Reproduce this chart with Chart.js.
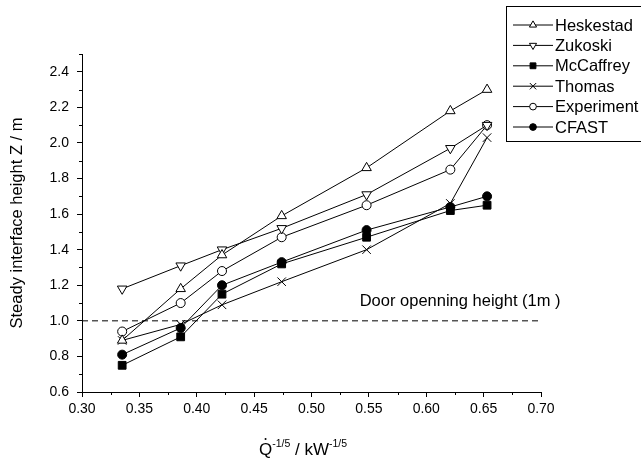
<!DOCTYPE html>
<html>
<head>
<meta charset="utf-8">
<script src="https://cdn.jsdelivr.net/npm/chart.js@4.4.1/dist/chart.umd.min.js"></script>
<style>
  html, body { margin: 0; padding: 0; background: #fff; }
  #wrap { width: 641px; height: 467px; }
</style>
</head>
<body>
<div id="wrap"><canvas id="chart" width="641" height="467"></canvas></div>
<script>
// ========================================
// DATA
// ========================================
const xValues = [0.335, 0.386, 0.422, 0.474, 0.548, 0.621, 0.653];
const heskestad = [0.89, 1.18, 1.37, 1.59, 1.86, 2.18, 2.30];
const zukoski = [1.18, 1.31, 1.40, 1.52, 1.71, 1.97, 2.10];
const mccaffrey = [0.75, 0.91, 1.15, 1.32, 1.47, 1.62, 1.65];
const thomas = [0.89, 0.98, 1.09, 1.22, 1.40, 1.66, 2.03];
const experiment = [0.94, 1.10, 1.28, 1.47, 1.65, 1.85, 2.10];
const cfast = [0.81, 0.96, 1.20, 1.33, 1.51, 1.64, 1.70];

const xTicks = [0.30, 0.35, 0.40, 0.45, 0.50, 0.55, 0.60, 0.65, 0.70];
const yTicks = [0.6, 0.8, 1.0, 1.2, 1.4, 1.6, 1.8, 2.0, 2.2, 2.4];
const xMinorTicks = [0.325, 0.375, 0.425, 0.475, 0.525, 0.575, 0.625, 0.675];
const yMinorTicks = [0.7, 0.9, 1.1, 1.3, 1.5, 1.7, 1.9, 2.1, 2.3, 2.5];

const doorLineX = [0.30, 0.70];
const doorHeight = 1.0;
const doorLabel = "Door openning height (1m )";
const doorLabelPos = { x: 0.542, y: 1.107 };

const FONT = "'Liberation Sans', Arial, sans-serif";

const toPoints = (ys) => xValues.map((x, i) => ({ x, y: ys[i] }));

function series(label, ys, style, radius, fill, rotation) {
  return {
    label,
    data: toPoints(ys),
    showLine: true,
    borderColor: "#000",
    borderWidth: 1,
    pointStyle: style,
    pointRadius: radius,
    pointRotation: rotation || 0,
    pointBackgroundColor: fill,
    pointBorderColor: "#000",
    pointBorderWidth: 1,
    pointHoverRadius: radius,
  };
}

const datasets = [
  series("Heskestad", heskestad, "triangle", 5.5, "#fff"),
  series("Zukoski", zukoski, "triangle", 5.5, "#fff", 180),
  series("McCaffrey", mccaffrey, "rect", 5.5, "#000"),
  series("Thomas", thomas, "crossRot", 6, "#000"),
  series("Experiment", experiment, "circle", 4.5, "#fff"),
  series("CFAST", cfast, "circle", 4.5, "#000"),
  {
    label: "door",
    data: doorLineX.map((x) => ({ x, y: doorHeight })),
    showLine: true,
    borderColor: "#000",
    borderWidth: 1,
    borderDash: [6, 4],
    pointRadius: 0,
    pointHoverRadius: 0,
    order: 10,
  },
];

// ========================================
// PLUGINS: minor ticks, legend, labels
// ========================================
const extras = {
  id: "extras",
  afterDraw(chart) {
    const ctx = chart.ctx;
    const xs = chart.scales.x;
    const ys = chart.scales.y;
    const area = chart.chartArea;
    ctx.save();
    ctx.strokeStyle = "#000";
    ctx.lineWidth = 1;

    // minor ticks
    ctx.beginPath();
    xMinorTicks.forEach((v) => {
      const px = Math.round(xs.getPixelForValue(v)) + 0.5;
      ctx.moveTo(px, area.bottom);
      ctx.lineTo(px, area.bottom + 3);
    });
    yMinorTicks.forEach((v) => {
      const py = Math.round(ys.getPixelForValue(v)) + 0.5;
      ctx.moveTo(area.left, py);
      ctx.lineTo(area.left - 3, py);
    });
    ctx.stroke();

    // door label
    ctx.fillStyle = "#000";
    ctx.font = "16.5px " + FONT;
    ctx.textBaseline = "middle";
    ctx.textAlign = "left";
    ctx.fillText(
      doorLabel,
      xs.getPixelForValue(doorLabelPos.x),
      ys.getPixelForValue(doorLabelPos.y),
    );

    // x axis title: Q-dot^-1/5 / kW^-1/5
    const base = 455;
    const parts = [
      ["Q", 17, 0],
      ["-1/5", 10.5, -8],
      [" / kW", 17, 0],
      ["-1/5", 10.5, -8],
    ];
    let total = 0;
    parts.forEach(([t, s]) => {
      ctx.font = s + "px " + FONT;
      total += ctx.measureText(t).width;
    });
    let cx = 303 - total / 2;
    ctx.textBaseline = "alphabetic";
    parts.forEach(([t, s, dy], i) => {
      ctx.font = s + "px " + FONT;
      ctx.fillText(t, cx, base + dy);
      const w = ctx.measureText(t).width;
      if (i === 0) {
        ctx.beginPath();
        ctx.arc(cx + w / 2, base - 16, 1, 0, Math.PI * 2);
        ctx.fill();
      }
      cx += w;
    });

    // legend
    const bx = 506.5;
    const by = 6.5;
    ctx.strokeRect(bx, by, 200, 135);
    ctx.font = "16.5px " + FONT;
    ctx.textBaseline = "middle";
    chart.data.datasets.slice(0, 6).forEach((ds, i) => {
      const y = 25 + i * 20.4;
      ctx.beginPath();
      ctx.moveTo(513, y);
      ctx.lineTo(553, y);
      ctx.strokeStyle = "#000";
      ctx.stroke();
      ctx.fillStyle = ds.pointBackgroundColor;
      Chart.helpers.drawPoint(
        ctx,
        {
          pointStyle: ds.pointStyle,
          radius: ds.pointRadius * 0.75,
          rotation: ds.pointRotation,
          borderWidth: 1,
        },
        533,
        y,
      );
      ctx.fillStyle = "#000";
      ctx.fillText(ds.label, 555, y + 1);
    });
    ctx.restore();
  },
};

// ========================================
// CHART
// ========================================
new Chart(document.getElementById("chart"), {
  type: "scatter",
  data: { datasets },
  plugins: [extras],
  options: {
    responsive: false,
    animation: false,
    devicePixelRatio: 1,
    layout: { padding: { top: 54, right: 100, left: 0, bottom: 0 } },
    plugins: { legend: { display: false }, tooltip: { enabled: false } },
    scales: {
      x: {
        type: "linear",
        min: 0.3,
        max: 0.7,
        afterBuildTicks: (scale) => {
          scale.ticks = xTicks.map((v) => ({ value: v }));
        },
        afterFit: (scale) => {
          scale.height = 75;
        },
        ticks: {
          color: "#000",
          font: { family: FONT, size: 14 },
          padding: 4,
          maxRotation: 0,
          callback: (v) => Number(v).toFixed(2),
        },
        grid: {
          drawOnChartArea: false,
          tickLength: 5,
          tickColor: "#000",
        },
        border: { color: "#000", width: 1 },
      },
      y: {
        type: "linear",
        min: 0.6,
        max: 2.5,
        afterBuildTicks: (scale) => {
          scale.ticks = yTicks.map((v) => ({ value: v }));
        },
        afterFit: (scale) => {
          scale.width = 82;
        },
        ticks: {
          color: "#000",
          font: { family: FONT, size: 14 },
          padding: 8,
          callback: (v) => Number(v).toFixed(1),
        },
        grid: {
          drawOnChartArea: false,
          tickLength: 5,
          tickColor: "#000",
        },
        border: { color: "#000", width: 1 },
        title: {
          display: true,
          text: "Steady interface height Z / m",
          color: "#000",
          font: { family: FONT, size: 16.5 },
          padding: { top: 8 },
        },
      },
    },
  },
});
</script>
</body>
</html>
